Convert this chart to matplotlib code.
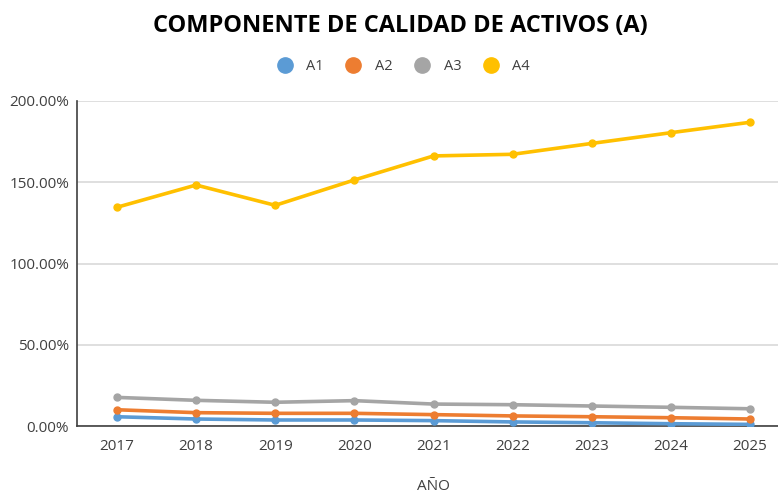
import numpy as np
import matplotlib
matplotlib.use("Agg")
from matplotlib import pyplot as plt
from matplotlib.ticker import FuncFormatter

years = ["2017", "2018", "2019", "2020", "2021", "2022", "2023", "2024", "2025"]
a1 = [5.7, 4.3, 3.7, 3.7, 3.3, 2.5, 2.0, 1.4, 1.0]
a2 = [10.0, 8.2, 7.8, 7.8, 7.0, 6.2, 5.7, 5.1, 4.3]
a3 = [17.6, 15.8, 14.6, 15.6, 13.5, 13.1, 12.3, 11.5, 10.6]
a4 = [134.6, 148.3, 135.8, 151.4, 166.2, 167.2, 173.9, 180.5, 186.9]
names = ["A1", "A2", "A3", "A4"]
colors = ["#5B9BD5", "#ED7D31", "#A5A5A5", "#FFC000"]

plt.rcParams['font.family'] = ['Open Sans', 'DejaVu Sans']

W, H = 778, 493
fig = plt.figure(figsize=(W / 100, H / 100), dpi=100)
# plot area in pixels: left 77.4, right 789.6 (past the edge), top 101, bottom 426
ax = fig.add_axes([77.4 / W, (H - 426) / H, (789.6 - 77.4) / W, (426 - 101) / H])

x = np.arange(len(years))
for vals, name, c in zip([a1, a2, a3, a4], names, colors):
    ax.plot(x, vals, color=c, lw=2.6, marker='o', ms=5, label=name, zorder=3)

ax.set_xlim(-0.5, len(years) - 0.5)
ax.set_ylim(0, 200)
ax.set_yticks([0, 50, 100, 150, 200])
ax.yaxis.set_major_formatter(FuncFormatter(lambda v, p: f"{v:.2f}%"))
ax.set_xticks(x)
ax.set_xticklabels(years)
ax.grid(axis='y', color='#D9D9D9', lw=1.2)
ax.set_axisbelow(True)
for s in ['top', 'right']:
    ax.spines[s].set_visible(False)
ax.spines['left'].set_color('#404040')
ax.spines['bottom'].set_color('#404040')
ax.spines['left'].set_linewidth(1.2)
ax.spines['bottom'].set_linewidth(1.2)
ax.tick_params(length=0, labelsize=11, colors='#404040', pad=6)
ax.tick_params(axis='x', pad=9)

fig.text(400 / W, 1 - 26 / H, "COMPONENTE DE CALIDAD DE ACTIVOS (A)", ha='center', va='center',
         fontsize=17, fontweight='bold', color='black')
fig.text(433 / W, 1 - 487 / H, "AÑO", ha='center', va='center', fontsize=11, color='#404040')

handles = [plt.Line2D([], [], ls='none', marker='o', ms=11, color=c) for c in colors]
fig.legend(handles, names, loc='center', bbox_to_anchor=(400 / W, 1 - 67 / H), ncol=4,
           frameon=False, fontsize=10.5, handletextpad=0.5, columnspacing=1.0,
           labelcolor='#404040')

fig.savefig("out.png", dpi=100)
